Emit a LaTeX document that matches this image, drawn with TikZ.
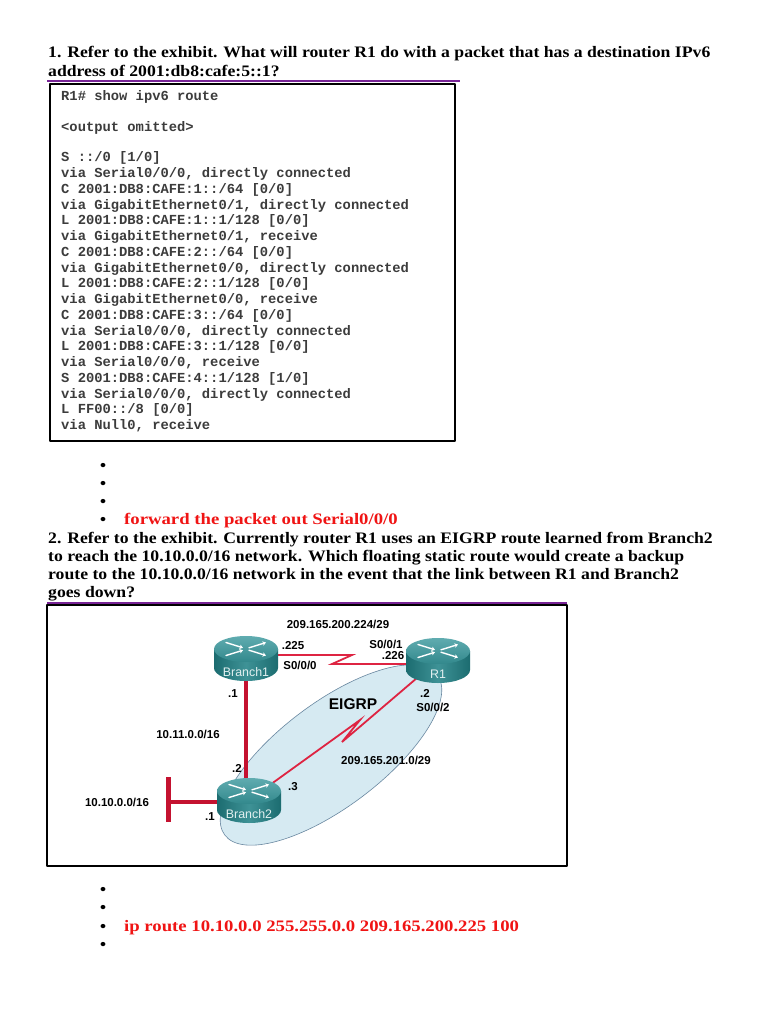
\documentclass[tikz,border=0pt]{standalone}
\usepackage{fontspec}
\setmainfont[FakeStretch=1.105]{Liberation Serif}
\newfontfamily\ansfont[FakeStretch=1.17]{Liberation Serif}
\newfontfamily\netfont{Liberation Sans}
\newfontfamily\codefont{Liberation Mono}
\usetikzlibrary{arrows.meta}
\definecolor{ulpurple}{RGB}{120,36,150}
\definecolor{ansred}{RGB}{240,20,20}
\definecolor{codegray}{RGB}{60,60,60}
\definecolor{ethred}{RGB}{196,18,48}
\definecolor{serred}{RGB}{222,36,66}
\definecolor{areafill}{RGB}{214,234,242}
\definecolor{areadraw}{RGB}{105,135,160}
\definecolor{rside}{RGB}{28,108,112}
\definecolor{rsidehi}{RGB}{62,146,150}
\definecolor{rtop}{RGB}{50,136,140}
\definecolor{rtophi}{RGB}{96,172,176}
\definecolor{rlabelc}{RGB}{226,240,240}
\begin{document}
\begin{tikzpicture}[x=1pt,y=-1pt,line join=round,line cap=round,>=stealth,
	qtext/.style={anchor=base west,inner sep=0,font=\bfseries\fontsize{16}{19}\selectfont},
	anstext/.style={anchor=base west,inner sep=0,text=ansred,font=\ansfont\bfseries\fontsize{16}{19}\selectfont},
	code/.style={anchor=base west,inner sep=0,text=codegray,font=\codefont\bfseries\fontsize{13.8}{15}\selectfont},
	bul/.style={anchor=base,inner sep=0,font=\fontsize{18}{20}\selectfont},
	uline/.style={draw=ulpurple,line width=2pt,line cap=butt},
	net/.style={inner sep=0,font=\netfont\bfseries\fontsize{11.5}{13}\selectfont},
	rtr/.style={inner sep=0,minimum width=64pt,minimum height=45pt},
	rlabel/.style={inner sep=0,text=rlabelc,font=\netfont\fontsize{12.4}{14}\selectfont},
	rarrow/.style={draw=white,line width=1.4pt,-{Stealth[length=3.5pt,width=4.5pt]}},
	eth/.style={draw=ethred,line width=4.5pt,line cap=butt},
	serial/.style={draw=serred,line width=1.8pt,line cap=butt,line join=miter},
	router/.pic={
		\shade[left color=rside,right color=rside,middle color=rsidehi]
		(-32,-9) -- (-32,10) arc[start angle=180,end angle=0,x radius=32,y radius=13] -- (32,-9) -- cycle;
		\shade[top color=rtophi,bottom color=rtop] (0,-9) ellipse[x radius=32,y radius=13];
		\draw[rarrow] (-20,-15.5) -- (-3,-10.2);
		\draw[rarrow] (-20,-2.5) -- (-3,-7.8);
		\draw[rarrow] (3,-10.2) -- (20,-15.5);
		\draw[rarrow] (3,-7.8) -- (20,-2.5);
	}]
	\useasboundingbox (0,0) rectangle (768,1024);
	\fill[white] (0,0) rectangle (768,1024);
	
	% question 1
	\node[qtext] (q1a) at (48,58) {1. Refer to the exhibit. What will router R1 do with a packet that has a destination IPv6};
	\node[qtext] (q1b) at (48,77) {address of 2001:db8:cafe:5::1?};
	\draw[uline] (47,81) -- (460,81);
	
	\draw[line width=2.8pt] (50,84) rectangle (455,441);
	\node[code] (h1) at (61,101) {R1\# show ipv6 route};
	\node[code] (h2) at (61,132) {<output omitted>};
	\foreach \txt [count=\k from 0] in {{S ::/0 [1/0]},
		{via Serial0/0/0, directly connected},
		{C 2001:DB8:CAFE:1::/64 [0/0]},
		{via GigabitEthernet0/1, directly connected},
		{L 2001:DB8:CAFE:1::1/128 [0/0]},
		{via GigabitEthernet0/1, receive},
		{C 2001:DB8:CAFE:2::/64 [0/0]},
		{via GigabitEthernet0/0, directly connected},
		{L 2001:DB8:CAFE:2::1/128 [0/0]},
		{via GigabitEthernet0/0, receive},
		{C 2001:DB8:CAFE:3::/64 [0/0]},
		{via Serial0/0/0, directly connected},
		{L 2001:DB8:CAFE:3::1/128 [0/0]},
		{via Serial0/0/0, receive},
		{S 2001:DB8:CAFE:4::1/128 [1/0]},
		{via Serial0/0/0, directly connected},
		{L FF00::/8 [0/0]},
		{via Null0, receive}}
	\node[code] (r\k) at (61,{162+15.74*\k}) {\txt};
	
	\foreach \y [count=\k] in {471,489,507,525}
	\node[bul] (b\k) at (103,\y) {•};
	\node[anstext] (a1) at (124,524) {forward the packet out Serial0/0/0};
	
	% question 2
	\node[qtext] (q2a) at (48,543) {2. Refer to the exhibit. Currently router R1 uses an EIGRP route learned from Branch2};
	\node[qtext] (q2b) at (48,561) {to reach the 10.10.0.0/16 network. Which floating static route would create a backup};
	\node[qtext] (q2c) at (48,579) {route to the 10.10.0.0/16 network in the event that the link between R1 and Branch2};
	\node[qtext] (q2d) at (48,597) {goes down?};
	\draw[uline] (47,603) -- (567,603);
	
	\draw[line width=1.6pt] (47,605) rectangle (567,866);
	\node[rtr] (B1) at (246,658) {};
	\node[rtr] (R1) at (438,660) {};
	\node[rtr] (B2) at (249,800) {};
	\coordinate (lan) at (168,802);
	\coordinate (s1) at (352,655);
	\coordinate (s2) at (332,664);
	\coordinate (s3) at (360,720);
	\coordinate (s4) at (342,742);
	
	\draw[fill=areafill,draw=areadraw,line width=0.6pt,rotate around={37:(331,755)}]
	(331,755) ellipse[x radius=133,y radius=52];
	
	\draw[eth] (B1.center) -- (B1.center |- B2.center);
	\draw[eth] (lan) -- (lan -| B2.center);
	\draw[eth,line width=5pt] (lan) ++(0,-25) -- ++(0,45);
	\draw[serial] ([shift={(0,-3)}]B1.center) -- (s1) -- (s2) -- ([shift={(0,4)}]R1.center);
	\draw[serial] (B2.center) -- (s3) -- (s4) -- (R1.center);
	
	\pic at (B1) {router};
	\pic at (R1) {router};
	\pic at (B2) {router};
	\node[rlabel] (B1t) at ([shift={(0,14)}]B1.center) {Branch1};
	\node[rlabel] (R1t) at ([shift={(0,14)}]R1.center) {R1};
	\node[rlabel] (B2t) at ([shift={(0,14)}]B2.center) {Branch2};
	
	\path
	(338,624) node[net] (n1) {209.165.200.224/29}
	(293,646) node[net] (n2) {.225}
	(300,665) node[net] (n3) {S0/0/0}
	(386,644) node[net] (n4) {S0/0/1}
	(393,656) node[net] (n5) {.226}
	(425,693) node[net] (n6) {.2}
	(433,707) node[net] (n7) {S0/0/2}
	(353,704) node[net,font=\netfont\bfseries\fontsize{15.5}{17}\selectfont] (n8) {EIGRP}
	(188,734) node[net] (n9) {10.11.0.0/16}
	(233,694) node[net] (n10) {.1}
	(237,768) node[net] (n11) {.2}
	(293,787) node[net] (n12) {.3}
	(210,817) node[net] (n13) {.1}
	(386,760) node[net] (n14) {209.165.201.0/29}
	(117,802) node[net] (n15) {10.10.0.0/16}
	;
	
	\foreach \y [count=\k from 5] in {895,913,932,950}
	\node[bul] (b\k) at (103,\y) {•};
	\node[anstext] (a2) at (124,931) {ip route 10.10.0.0 255.255.0.0 209.165.200.225 100};
\end{tikzpicture}
\end{document}
